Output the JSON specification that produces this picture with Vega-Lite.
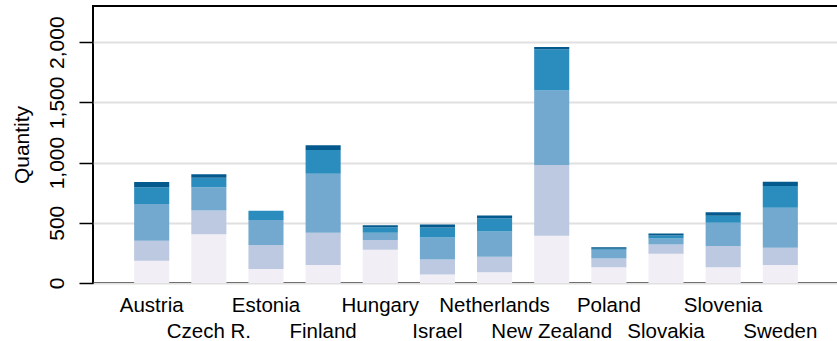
{
  "$schema": "https://vega.github.io/schema/vega-lite/v6.json",
  "autosize": {"type": "none"},
  "padding": {"left": 93, "top": 6, "right": 0, "bottom": 58},
  "width": 746,
  "height": 277,
  "background": "white",
  "config": {
    "view": {"stroke": "black", "strokeWidth": 2},
    "font": "Liberation Sans",
    "axis": {"labelFont": "Liberation Sans", "titleFont": "Liberation Sans", "labelColor": "black", "titleColor": "black"}
  },
  "data": {
    "values": [
      {"country": "Austria", "seg": 1, "value": 185},
      {"country": "Austria", "seg": 2, "value": 166},
      {"country": "Austria", "seg": 3, "value": 305},
      {"country": "Austria", "seg": 4, "value": 138},
      {"country": "Austria", "seg": 5, "value": 44},
      {"country": "Czech R.", "seg": 1, "value": 404},
      {"country": "Czech R.", "seg": 2, "value": 199},
      {"country": "Czech R.", "seg": 3, "value": 191},
      {"country": "Czech R.", "seg": 4, "value": 80},
      {"country": "Czech R.", "seg": 5, "value": 28},
      {"country": "Estonia", "seg": 1, "value": 116},
      {"country": "Estonia", "seg": 2, "value": 199},
      {"country": "Estonia", "seg": 3, "value": 208},
      {"country": "Estonia", "seg": 4, "value": 77},
      {"country": "Estonia", "seg": 5, "value": 0},
      {"country": "Finland", "seg": 1, "value": 149},
      {"country": "Finland", "seg": 2, "value": 269},
      {"country": "Finland", "seg": 3, "value": 489},
      {"country": "Finland", "seg": 4, "value": 197},
      {"country": "Finland", "seg": 5, "value": 39},
      {"country": "Hungary", "seg": 1, "value": 277},
      {"country": "Hungary", "seg": 2, "value": 80},
      {"country": "Hungary", "seg": 3, "value": 61},
      {"country": "Hungary", "seg": 4, "value": 45},
      {"country": "Hungary", "seg": 5, "value": 17},
      {"country": "Israel", "seg": 1, "value": 70},
      {"country": "Israel", "seg": 2, "value": 125},
      {"country": "Israel", "seg": 3, "value": 183},
      {"country": "Israel", "seg": 4, "value": 83},
      {"country": "Israel", "seg": 5, "value": 25},
      {"country": "Netherlands", "seg": 1, "value": 90},
      {"country": "Netherlands", "seg": 2, "value": 127},
      {"country": "Netherlands", "seg": 3, "value": 210},
      {"country": "Netherlands", "seg": 4, "value": 111},
      {"country": "Netherlands", "seg": 5, "value": 22},
      {"country": "New Zealand", "seg": 1, "value": 393},
      {"country": "New Zealand", "seg": 2, "value": 586},
      {"country": "New Zealand", "seg": 3, "value": 620},
      {"country": "New Zealand", "seg": 4, "value": 341},
      {"country": "New Zealand", "seg": 5, "value": 19},
      {"country": "Poland", "seg": 1, "value": 131},
      {"country": "Poland", "seg": 2, "value": 72},
      {"country": "Poland", "seg": 3, "value": 73},
      {"country": "Poland", "seg": 4, "value": 8},
      {"country": "Poland", "seg": 5, "value": 12},
      {"country": "Slovakia", "seg": 1, "value": 242},
      {"country": "Slovakia", "seg": 2, "value": 78},
      {"country": "Slovakia", "seg": 3, "value": 49},
      {"country": "Slovakia", "seg": 4, "value": 25},
      {"country": "Slovakia", "seg": 5, "value": 17},
      {"country": "Slovenia", "seg": 1, "value": 130},
      {"country": "Slovenia", "seg": 2, "value": 177},
      {"country": "Slovenia", "seg": 3, "value": 193},
      {"country": "Slovenia", "seg": 4, "value": 59},
      {"country": "Slovenia", "seg": 5, "value": 28},
      {"country": "Sweden", "seg": 1, "value": 149},
      {"country": "Sweden", "seg": 2, "value": 144},
      {"country": "Sweden", "seg": 3, "value": 332},
      {"country": "Sweden", "seg": 4, "value": 180},
      {"country": "Sweden", "seg": 5, "value": 36}
    ]
  },
  "mark": {"type": "bar"},
  "encoding": {
    "x": {
      "field": "country",
      "type": "nominal",
      "sort": null,
      "scale": {"paddingInner": 0.386, "paddingOuter": 0.72},
      "axis": {
        "title": null,
        "labelAngle": 0,
        "labelFontSize": 20.5,
        "labelPadding": 12,
        "labelBaseline": "top",
        "labelLineHeight": 26,
        "labelExpr": "indexof(['Czech R.','Finland','Israel','New Zealand','Slovakia','Sweden'], datum.value) >= 0 ? ['', datum.label] : datum.label",
        "ticks": false,
        "domain": false,
        "labelOverlap": false
      }
    },
    "y": {
      "field": "value",
      "type": "quantitative",
      "aggregate": "sum",
      "stack": "zero",
      "scale": {"domain": [0, 2300], "nice": false},
      "axis": {
        "title": "Quantity",
        "titleFontSize": 21,
        "titleFontWeight": "normal",
        "titlePadding": 14,
        "labelFontSize": 21,
        "labelAngle": -90,
        "labelAlign": "center",
        "labelBaseline": "bottom",
        "labelPadding": 12,
        "values": [0, 500, 1000, 1500, 2000],
        "format": ",.0f",
        "tickSize": 14,
        "tickColor": "black",
        "tickWidth": 1.5,
        "domain": false,
        "gridColor": "#e0e0e0",
        "gridWidth": 2
      }
    },
    "color": {
      "field": "seg",
      "type": "ordinal",
      "scale": {"domain": [1, 2, 3, 4, 5], "range": ["#f1eef6", "#bdc9e1", "#74a9cf", "#2b8cbe", "#045a8d"]},
      "legend": null
    },
    "order": {"field": "seg", "type": "quantitative", "sort": "ascending"}
  }
}
